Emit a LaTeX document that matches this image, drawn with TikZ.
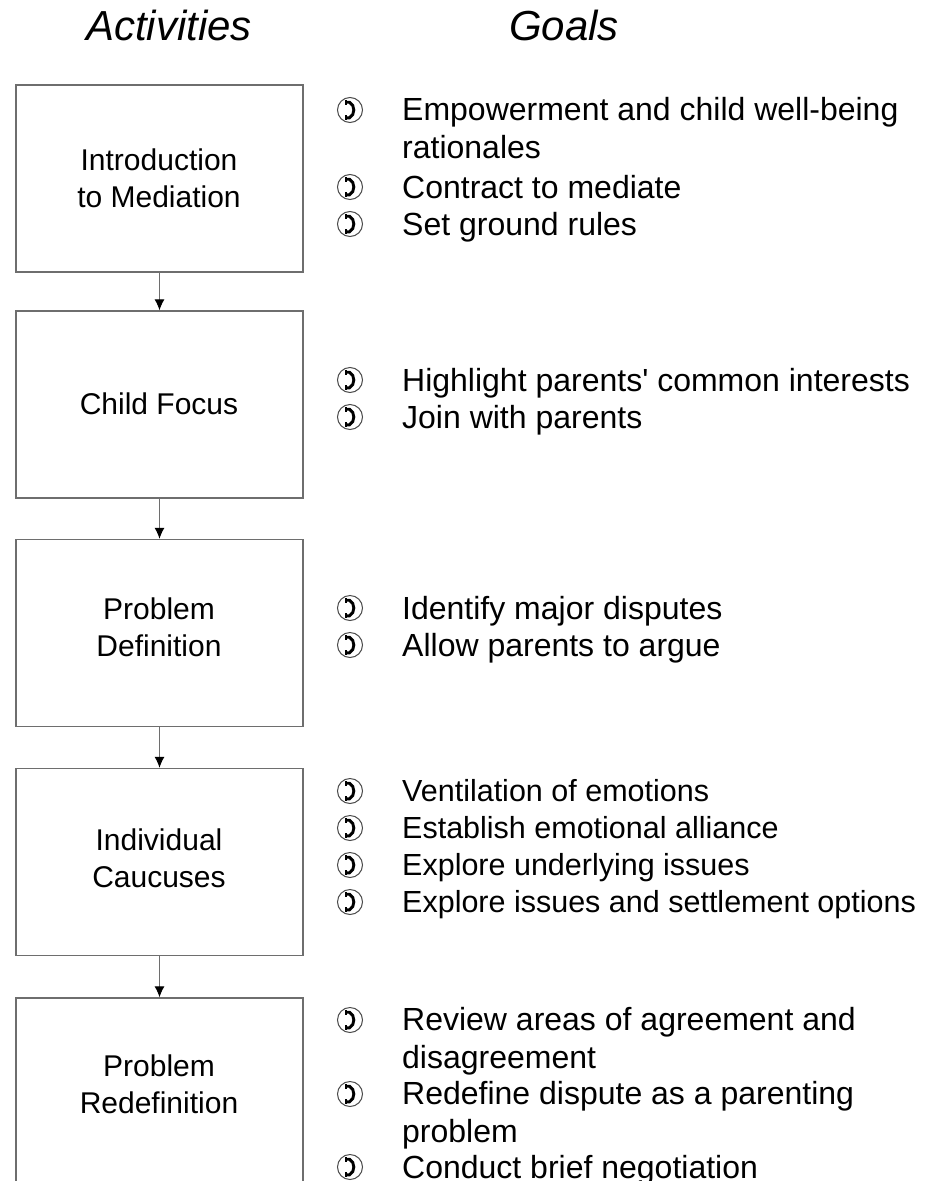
\documentclass[tikz,border=0pt]{standalone}
\usepackage{fontspec}
\setmainfont{Liberation Sans}[Ligatures=TeXOff]
\usetikzlibrary{arrows.meta}
\definecolor{boxgray}{HTML}{6E6E6E}
\definecolor{bulgray}{HTML}{4A4A4A}
\tikzset{
  actbox/.style={draw=boxgray, line width=1.4pt, minimum width=287pt, minimum height=187pt, inner sep=0pt},
  acttext/.style={anchor=base, align=center, font=\fontsize{30}{37}\selectfont, inner sep=0pt},
  goaltext/.style={anchor=base west, align=left, font=\fontsize{32}{37.5}\selectfont, inner sep=0pt},
  goalsmall/.style={goaltext, font=\fontsize{30.5}{37}\selectfont},
  bul/.style={circle, draw=bulgray, line width=1pt, minimum size=25pt, inner sep=0pt,
    path picture={
      \path (path picture bounding box.center) coordinate (pc);
      \draw[line width=2.9pt, black]
        ([shift={(-5,-7.8)}]pc) -- ([shift={(-0.5,-7.8)}]pc)
        .. controls ([shift={(5.3,-4.7)}]pc) and ([shift={(5.3,4.7)}]pc) ..
        ([shift={(-0.5,7.8)}]pc) -- ([shift={(-5,7.8)}]pc);
      \fill[black] ([shift={(-5.2,-9.6)}]pc) rectangle ([shift={(-2.6,-5.4)}]pc);
      \fill[black] ([shift={(-5.2,9.6)}]pc) rectangle ([shift={(-2.6,5.4)}]pc);
    }},
  head/.style={anchor=base, font=\fontsize{42}{42}\selectfont\itshape, inner sep=0pt},
  flow/.style={draw=boxgray, line width=1pt, -{Latex[length=11pt,width=10pt,color=black]}}
}
\begin{document}
\begin{tikzpicture}[x=1pt,y=-1pt]
\useasboundingbox (0,0) rectangle (925,1181);
\clip (0,0) rectangle (925,1181);
% headings
\node[head] (hA) at (169,40) {Activities};
\node[head] (hG) at (564,40) {Goals};
% boxes
\node[actbox] (b1) at (159.5,178.5) {};
\node[actbox] (b2) at (159.5,404.5) {};
\node[actbox] (b3) at (159.5,633) {};
\node[actbox] (b4) at (159.5,862) {};
\node[actbox] (b5) at (159.5,1091.5) {};
% box texts (base = baseline of last line)
\node[acttext] (t1) at (159,207) {Introduction\\to Mediation};
\node[acttext] (t2) at (159,414) {Child Focus};
\node[acttext] (t3) at (159,656) {Problem\\Definition};
\node[acttext] (t4) at (159,887) {Individual\\Caucuses};
\node[acttext] (t5) at (159,1113) {Problem\\Redefinition};
% arrows
\draw[flow] (b1.south) -- (b2.north);
\draw[flow] (b2.south) -- (b3.north);
\draw[flow] (b3.south) -- (b4.north);
\draw[flow] (b4.south) -- (b5.north);
% goals box 1
\node[bul] (u11) at (350,110) {};
\node[goaltext] (g11) at (402,158) {Empowerment and child well-being\\rationales};
\node[bul] (u12) at (350,187) {};
\node[goaltext] (g12) at (402,198) {Contract to mediate};
\node[bul] (u13) at (350,224) {};
\node[goaltext] (g13) at (402,235) {Set ground rules};
% goals box 2
\node[bul] (u21) at (350,380) {};
\node[goaltext] (g21) at (402,391) {Highlight parents' common interests};
\node[bul] (u22) at (350,417) {};
\node[goaltext] (g22) at (402,428) {Join with parents};
% goals box 3
\node[bul] (u31) at (350,608) {};
\node[goaltext] (g31) at (402,619) {Identify major disputes};
\node[bul] (u32) at (350,645) {};
\node[goaltext] (g32) at (402,656) {Allow parents to argue};
% goals box 4
\node[bul] (u41) at (350,791) {};
\node[goalsmall] (g41) at (402,801.5) {Ventilation of emotions};
\node[bul] (u42) at (350,828) {};
\node[goalsmall] (g42) at (402,838.5) {Establish emotional alliance};
\node[bul] (u43) at (350,865) {};
\node[goalsmall] (g43) at (402,875.5) {Explore underlying issues};
\node[bul] (u44) at (350,902) {};
\node[goalsmall] (g44) at (402,912.5) {Explore issues and settlement options};
% goals box 5
\node[bul] (u51) at (350,1020) {};
\node[goaltext] (g51) at (402,1068) {Review areas of agreement and\\disagreement};
\node[bul] (u52) at (350,1094) {};
\node[goaltext] (g52) at (402,1142) {Redefine dispute as a parenting\\problem};
\node[bul] (u53) at (350,1167) {};
\node[goaltext] (g53) at (402,1178) {Conduct brief negotiation};
\end{tikzpicture}
\end{document}
